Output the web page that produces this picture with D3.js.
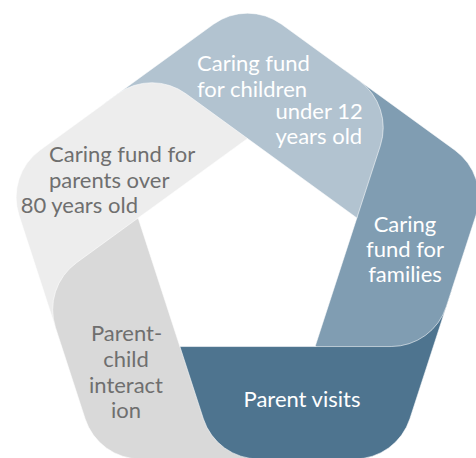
<!DOCTYPE html>
<html>
<head>
<meta charset="utf-8">
<script src="https://cdn.jsdelivr.net/npm/d3@7"></script>
<style>
  body { margin: 0; background: #fff; }
  svg { display: block; }
  text { font-family: Lato, "Noto Sans", sans-serif; font-size: 22px; }
</style>
</head>
<body>
<script>
// segments, clockwise from the top-right side of the pentagon
var segments = ["Caring fund for children under 12 years old", "Caring fund for families",
  "Parent visits", "Parent-child interaction", "Caring fund for parents over 80 years old"];
var labelLines = [
  ["Caring fund", "for children", "under 12", "years old"],
  ["Caring", "fund for", "families"],
  ["Parent visits"],
  ["Parent-", "child", "interact", "ion"],
  ["Caring fund for", "parents over", "80 years old"]
];

// look
var palette = ["#b2c3d0", "#809db2", "#4e748f", "#d9d9d9", "#ededed"];
var textColors = ["#fff", "#fff", "#fff", "#6f6f6f", "#6f6f6f"];
// per line: [x, baseline, anchor]
var labelPos = [
  [[197, 71, "start"], [197, 96.7, "start"], [275.5, 119.3, "start"], [275.5, 144.3, "start"]],
  [[405, 231.5, "middle"], [405, 256.7, "middle"], [405, 281.7, "middle"]],
  [[302, 406.7, "middle"]],
  [[126.5, 341, "middle"], [126, 366.7, "middle"], [126, 392.7, "middle"], [126, 417.7, "middle"]],
  [[49, 162.3, "start"], [49, 187.7, "start"], [20.7, 213.3, "start"]]
];

var W = 476, H = 458;
var cx = 247.5, cy = 253.5, R = 254, r = 115, corner = 58, ext = 60;

var color = d3.scaleOrdinal(segments, palette);
var angle = d3.scaleLinear().domain([0, segments.length]).range([0, 2 * Math.PI]);
var n = segments.length;

function pt(i, rad) {
  var a = angle(i);
  return [cx + rad * Math.sin(a), cy - rad * Math.cos(a)];
}
function m(i) { return ((i % n) + n) % n; }

var outer = d3.range(n).map(function(i) { return pt(i, R); });
var inner = d3.range(n).map(function(i) { return pt(i, r); });

function intersect(p1, p2, p3, p4) {
  var d = (p1[0] - p2[0]) * (p3[1] - p4[1]) - (p1[1] - p2[1]) * (p3[0] - p4[0]);
  var a = p1[0] * p2[1] - p1[1] * p2[0], b = p3[0] * p4[1] - p3[1] * p4[0];
  return [(a * (p3[0] - p4[0]) - (p1[0] - p2[0]) * b) / d,
          (a * (p3[1] - p4[1]) - (p1[1] - p2[1]) * b) / d];
}

// end point of each band: outer side k meets the inner line of side k+1
var Q = d3.range(n).map(function(k) {
  return intersect(outer[k], outer[m(k + 1)], inner[m(k + 1)], inner[m(k + 2)]);
});

function shapePath(k) {
  var q0 = Q[m(k - 1)], o0 = outer[m(k - 1)], o1 = outer[k];
  var len = Math.hypot(o0[0] - o1[0], o0[1] - o1[1]);
  var S = [q0[0] + ext * (o0[0] - o1[0]) / len, q0[1] + ext * (o0[1] - o1[1]) / len];
  var v = [S, outer[k], Q[k], inner[m(k + 1)], inner[k]];
  var rad = [0, corner, corner, 0, 0];
  var p = d3.path();
  var last = v[v.length - 1];
  p.moveTo((last[0] + v[0][0]) / 2, (last[1] + v[0][1]) / 2);
  for (var i = 0; i < v.length; i++) {
    var nx = v[(i + 1) % v.length];
    p.arcTo(v[i][0], v[i][1], nx[0], nx[1], rad[i]);
  }
  p.closePath();
  return p.toString();
}

var svg = d3.select("body").append("svg")
  .attr("width", W)
  .attr("height", H);

// wedge round the top vertex, used to lay the last segment's end back over the first
var wedge = [[cx, cy], pt(n - 0.95, 1000), pt(n - 0.5, 1000), pt(n, 1000), pt(n + 0.5, 1000)];
svg.append("defs").append("clipPath")
  .attr("id", "topwedge")
  .append("path")
  .attr("d", "M" + wedge.join("L") + "Z");

// draw counter-clockwise so each band's end lies over the next band's start
var order = d3.range(n).reverse();
svg.selectAll("path.seg")
  .data(order)
  .join("path")
  .attr("class", "seg")
  .attr("d", function(k) { return shapePath(k); })
  .attr("fill", function(k) { return color(segments[k]); })
  .attr("stroke", "#fff")
  .attr("stroke-opacity", 0.7)
  .attr("stroke-width", 0.8);

svg.append("path")
  .attr("d", shapePath(n - 1))
  .attr("fill", color(segments[n - 1]))
  .attr("stroke", "#fff")
  .attr("stroke-opacity", 0.7)
  .attr("stroke-width", 0.8)
  .attr("clip-path", "url(#topwedge)");

// labels
segments.forEach(function(s, k) {
  svg.append("g").selectAll("text")
    .data(labelLines[k])
    .join("text")
    .attr("x", function(d, i) { return labelPos[k][i][0]; })
    .attr("y", function(d, i) { return labelPos[k][i][1]; })
    .attr("text-anchor", function(d, i) { return labelPos[k][i][2]; })
    .attr("fill", textColors[k])
    .text(function(d) { return d; });
});
</script>
</body>
</html>
